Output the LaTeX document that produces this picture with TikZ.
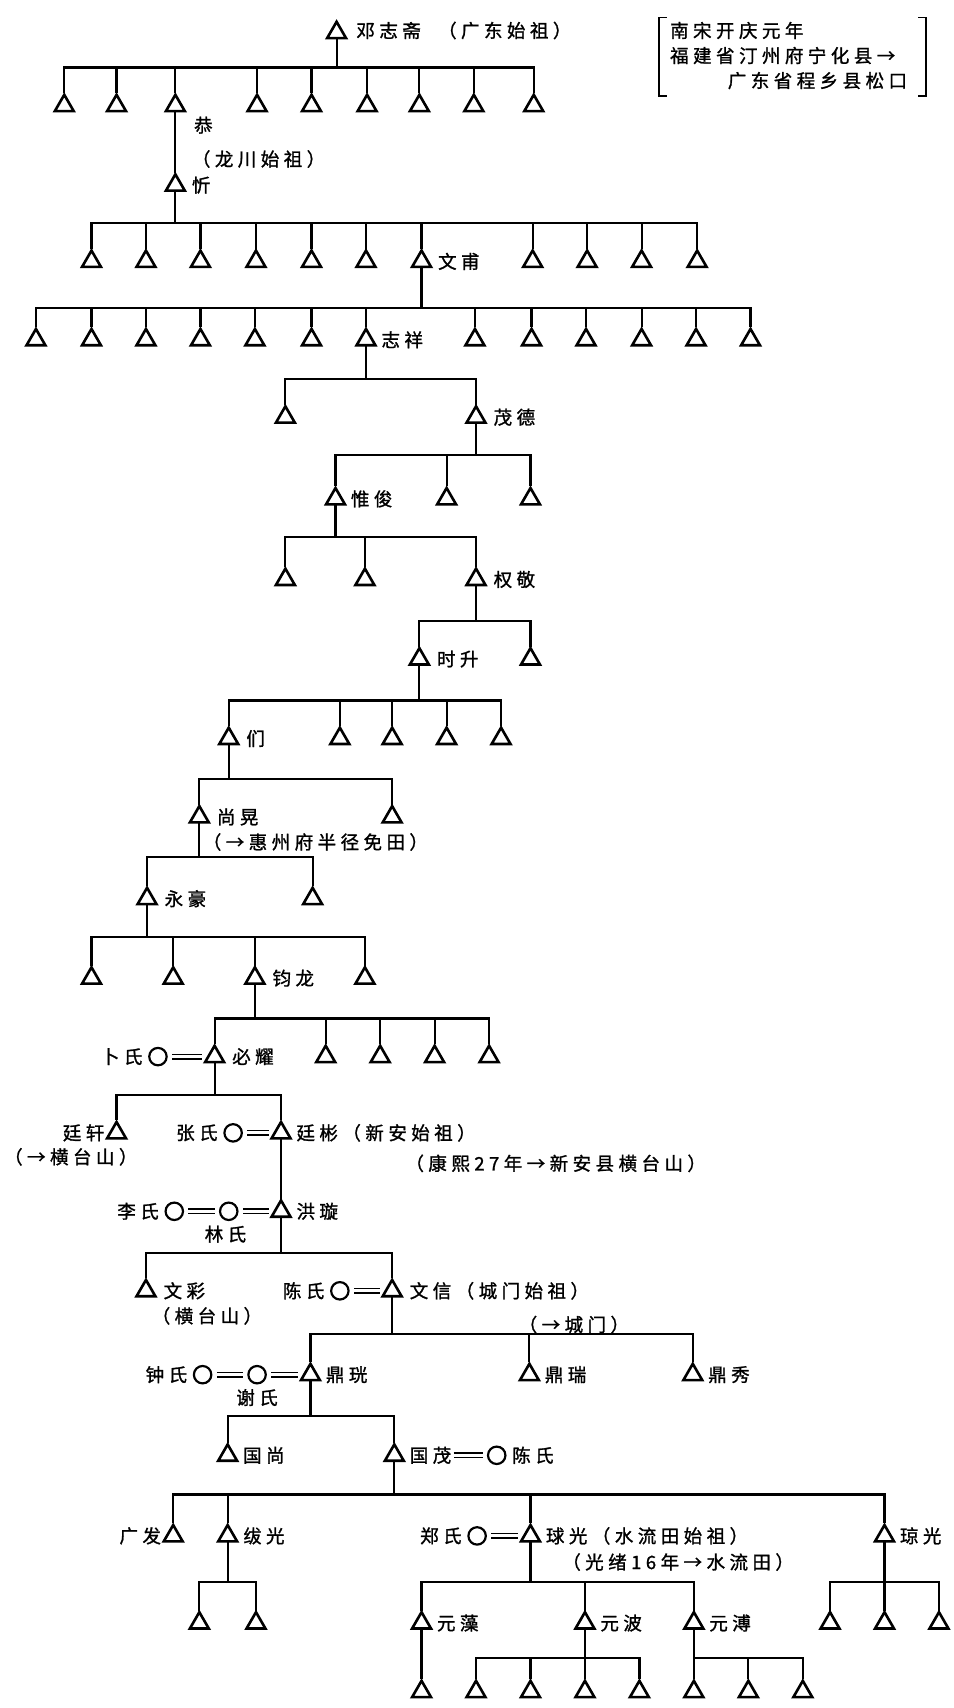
\documentclass[tikz,border=0pt]{standalone}
\usepackage{fontspec}
\newfontfamily\cjk[LetterSpace=24,FakeBold=1.2]{Noto Sans CJK SC}
\usetikzlibrary{shapes.geometric}
\newcommand\kin[5]{%
  \draw[conn] (#1.south) -- (#1.south |- 0,#2);
  \draw[conn] (#3.north |- 0,#2) -- (#4.north |- 0,#2);
  \foreach \kc in {#5}{\draw[conn] (\kc.north) -- (\kc.north |- 0,#2);}
}
\begin{document}
\begin{tikzpicture}[x=1pt,y=-1pt,
  tri/.style={regular polygon, regular polygon sides=3, draw, line width=2.4pt, minimum size=20pt, inner sep=0pt},
  wife/.style={circle, draw, line width=2pt, minimum size=16pt, inner sep=0pt},
  conn/.style={line width=2pt, line cap=rect},
  brk/.style={line width=1.6pt},
  marry/.style={double, double distance=2.6pt, line width=1.4pt, shorten <=4pt, shorten >=4pt},
  lbl/.style={font=\cjk\fontsize{17}{19}\selectfont, inner sep=0pt, anchor=west},
  lble/.style={font=\cjk\fontsize{17}{19}\selectfont, inner sep=0pt, anchor=east},
  lblc/.style={font=\cjk\fontsize{17}{19}\selectfont, inner sep=0pt},
]
\fill[white] (0,0) rectangle (875,1568);
\useasboundingbox (0,0) rectangle (875,1568);

% generation 0
\node[tri] (t0) at (309,30) {};
\node[lbl] (t0n) at (327,28) {邓志斋};
\node[lbl] (t0p) at (402,28) {（广东始祖）};

% migration box
\node[lbl] (bx1) at (615,28) {南宋开庆元年};
\node[lbl] (bx2) at (615,51) {福建省汀州府宁化县→};
\node[lbl] (bx3) at (668,74) {广东省程乡县松口};
\draw[brk] (612,16) -- (605,16) -- (605,88) -- (612,88);
\draw[brk] (843,16) -- (850,16) -- (850,88) -- (843,88);

% generation 1
\foreach \n/\x in {a1/59,a2/107,a3/161,a4/236,a5/286,a6/337,a7/385,a8/435,a9/490}
  \node[tri] (\n) at (\x,97) {};
\kin{t0}{62}{a1}{a9}{a1,a2,a3,a4,a5,a6,a7,a8,a9}
\node[lbl] (gong) at (178,115) {恭};
\node[lbl] (gongp) at (176,146) {（龙川始祖）};

% generation 2
\node[tri] (b0) at (161,170) {};
\draw[conn] (a3.south) -- (b0.north);
\node[lbl] (b0n) at (176,170) {忻};

% generation 3
\foreach \n/\x in {c1/84,c2/134,c3/184,c4/235,c5/286,c6/336,c7/387,c8/489,c9/539,c10/589,c11/640}
  \node[tri] (\n) at (\x,240) {};
\kin{b0}{205}{c1}{c11}{c1,c2,c3,c4,c5,c6,c7,c8,c9,c10,c11}
\node[lbl] (c7n) at (402,240) {文甫};

% generation 4
\foreach \n/\x in {d1/33,d2/84,d3/134,d4/184,d5/234,d6/286,d7/336,d8/436,d9/488,d10/538,d11/589,d12/639,d13/689}
  \node[tri] (\n) at (\x,312) {};
\kin{c7}{283}{d1}{d13}{d1,d2,d3,d4,d5,d6,d7,d8,d9,d10,d11,d12,d13}
\node[lbl] (d7n) at (350,312) {志祥};

% generation 5
\node[tri] (e1) at (262,383) {};
\node[tri] (e2) at (437,383) {};
\kin{d7}{348}{e1}{e2}{e1,e2}
\node[lbl] (e2n) at (453,383) {茂德};

% generation 6
\foreach \n/\x in {f1/308,f2/410,f3/487}
  \node[tri] (\n) at (\x,458) {};
\kin{e2}{418}{f1}{f3}{f1,f2,f3}
\node[lbl] (f1n) at (322,458) {惟俊};

% generation 7
\foreach \n/\x in {g1/262,g2/335,g3/437}
  \node[tri] (\n) at (\x,532) {};
\kin{f1}{493}{g1}{g3}{g1,g2,g3}
\node[lbl] (g3n) at (453,532) {权敬};

% generation 8
\node[tri] (h1) at (385,605) {};
\node[tri] (h2) at (487,605) {};
\kin{g3}{570}{h1}{h2}{h1,h2}
\node[lbl] (h1n) at (401,605) {时升};

% generation 9
\foreach \n/\x in {i1/210,i2/312,i3/360,i4/410,i5/460}
  \node[tri] (\n) at (\x,678) {};
\kin{h1}{643}{i1}{i5}{i1,i2,i3,i4,i5}
\node[lbl] (i1n) at (226,678) {们};

% generation 10
\node[tri] (j1) at (183,750) {};
\node[tri] (j2) at (360,750) {};
\kin{i1}{715}{j1}{j2}{j1,j2}
\node[lbl] (j1n) at (199,750) {尚晃};
\node[lbl] (j1p) at (186,773) {（→惠州府半径免田）};

% generation 11
\node[tri] (k1) at (135,825) {};
\node[tri] (k2) at (287,825) {};
\kin{j1}{787}{k1}{k2}{k1,k2}
\node[lbl] (k1n) at (151,825) {永豪};

% generation 12
\foreach \n/\x in {l1/84,l2/159,l3/234,l4/335}
  \node[tri] (\n) at (\x,898) {};
\kin{k1}{860}{l1}{l4}{l1,l2,l3,l4}
\node[lbl] (l3n) at (250,898) {钧龙};

% generation 13
\foreach \n/\x in {m1/197,m2/299,m3/349,m4/399,m5/449}
  \node[tri] (\n) at (\x,970) {};
\kin{l3}{935}{m1}{m5}{m1,m2,m3,m4,m5}
\node[lbl] (m1n) at (213,970) {必耀};
\node[wife] (mw) at (145,970) {};
\node[lble] (mwn) at (131,970) {卜氏};
\draw[marry] (mw) -- (m1);

% generation 14
\node[tri] (n1) at (107,1040) {};
\node[tri] (n2) at (258,1040) {};
\kin{m1}{1005}{n1}{n2}{n1,n2}
\node[lble] (n1n) at (96,1040) {廷轩};
\node[lblc] (n1p) at (65,1062) {（→横台山）};
\node[wife] (nw) at (214,1040) {};
\node[lble] (nwn) at (200,1040) {张氏};
\draw[marry] (nw) -- (n2);
\node[lbl] (n2n) at (272,1040) {廷彬（新安始祖）};
\node[lbl] (n2p) at (372,1068) {（康熙27年→新安县横台山）};

% generation 15
\node[tri] (o1) at (258,1112) {};
\draw[conn] (n2.south) -- (o1.north);
\node[lbl] (o1n) at (272,1112) {洪璇};
\node[wife] (ow2) at (210,1112) {};
\node[wife] (ow1) at (160,1112) {};
\node[lble] (ow1n) at (146,1112) {李氏};
\node[lblc] (ow2n) at (207,1133) {林氏};
\draw[marry] (ow1) -- (ow2);
\draw[marry] (ow2) -- (o1);

% generation 16
\node[tri] (p1) at (134,1185) {};
\node[tri] (p2) at (360,1185) {};
\kin{o1}{1150}{p1}{p2}{p1,p2}
\node[lbl] (p1n) at (150,1185) {文彩};
\node[lblc] (p1p) at (190,1208) {（横台山）};
\node[wife] (pw) at (312,1185) {};
\node[lble] (pwn) at (298,1185) {陈氏};
\draw[marry] (pw) -- (p2);
\node[lbl] (p2n) at (376,1185) {文信（城门始祖）};
\node[lbl] (p2p) at (476,1216) {（→城门）};

% generation 17
\node[tri] (q1) at (285,1262) {};
\node[tri] (q2) at (486,1262) {};
\node[tri] (q3) at (636,1262) {};
\kin{p2}{1225}{q1}{q3}{q1,q2,q3}
\node[lbl] (q1n) at (299,1262) {鼎珖};
\node[lbl] (q2n) at (500,1262) {鼎瑞};
\node[lbl] (q3n) at (650,1262) {鼎秀};
\node[wife] (qw2) at (236,1262) {};
\node[wife] (qw1) at (186,1262) {};
\node[lble] (qw1n) at (172,1262) {钟氏};
\node[lblc] (qw2n) at (236,1283) {谢氏};
\draw[marry] (qw1) -- (qw2);
\draw[marry] (qw2) -- (q1);

% generation 18
\node[tri] (r1) at (209,1336) {};
\node[tri] (r2) at (362,1336) {};
\kin{q1}{1300}{r1}{r2}{r1,r2}
\node[lbl] (r1n) at (223,1336) {国尚};
\node[lbl] (r2n) at (376,1336) {国茂};
\node[wife] (rw) at (456,1336) {};
\node[lbl] (rwn) at (470,1336) {陈氏};
\draw[marry, shorten <=2pt] (r2n) -- (rw);

% generation 19
\node[tri] (s1) at (159,1410) {};
\node[tri] (s2) at (209,1410) {};
\node[tri] (s3) at (487,1410) {};
\node[tri] (s4) at (812,1410) {};
\kin{r2}{1372}{s1}{s4}{s1,s2,s3,s4}
\node[lble] (s1n) at (148,1410) {广发};
\node[lbl] (s2n) at (223,1410) {绂光};
\node[wife] (sw) at (438,1410) {};
\node[lble] (swn) at (424,1410) {郑氏};
\draw[marry] (sw) -- (s3);
\node[lbl] (s3n) at (501,1410) {球光（水流田始祖）};
\node[lbl] (s3p) at (516,1434) {（光绪16年→水流田）};
\node[lbl] (s4n) at (826,1410) {琼光};

% generation 20
\node[tri] (t1) at (183,1490) {};
\node[tri] (t2) at (235,1490) {};
\kin{s2}{1452}{t1}{t2}{t1,t2}
\node[tri] (u1) at (387,1490) {};
\node[tri] (u2) at (537,1490) {};
\node[tri] (u3) at (637,1490) {};
\kin{s3}{1452}{u1}{u3}{u1,u2,u3}
\node[lbl] (u1n) at (401,1490) {元藻};
\node[lbl] (u2n) at (551,1490) {元波};
\node[lbl] (u3n) at (651,1490) {元溥};
\node[tri] (v1) at (762,1490) {};
\node[tri] (v2) at (812,1490) {};
\node[tri] (v3) at (862,1490) {};
\kin{s4}{1452}{v1}{v3}{v1,v2,v3}

% generation 21
\foreach \n/\x in {w1/387,w2/437,w3/487,w4/537,w5/587,w6/637,w7/687,w8/737}
  \node[tri] (\n) at (\x,1553) {};
\draw[conn] (u1.south) -- (w1.north);
\kin{u2}{1522}{w2}{w5}{w2,w3,w4,w5}
\kin{u3}{1522}{w6}{w8}{w6,w7,w8}
\end{tikzpicture}
\end{document}
